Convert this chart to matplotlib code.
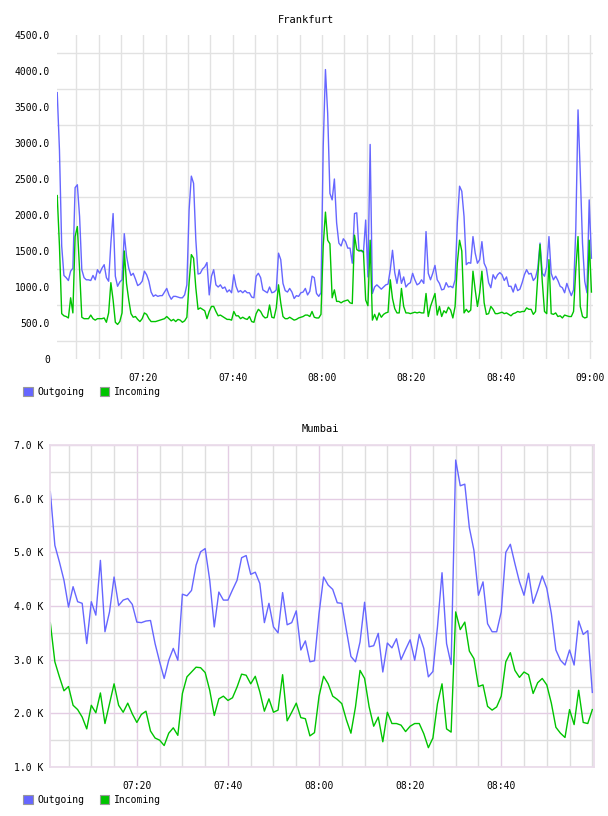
import matplotlib
matplotlib.use('Agg')
import matplotlib.pyplot as plt
import matplotlib.dates as mdates
from matplotlib.patches import Patch
from matplotlib.ticker import FixedLocator, FuncFormatter, MultipleLocator
import pandas as pd

plt.rcParams['font.family'] = ['DejaVu Sans Mono', 'DejaVu Sans']
plt.rcParams['font.size'] = 7

BLUE = '#6666ff'
GREEN = '#00c400'

# Frankfurt: one sample every 30 s, first one at 07:00:45
fra_out = [3700, 2900, 1570, 1160, 1130, 1090, 1220, 1260, 2380, 2420,
           1980, 1240, 1130, 1100, 1100, 1090, 1160, 1100, 1240, 1190,
           1260, 1310, 1130, 1080, 1610, 2020, 1150, 1010, 1070, 1100,
           1740, 1430, 1260, 1160, 1190, 1110, 1020, 1040, 1080, 1220,
           1170, 1080, 930, 870, 890, 870, 880, 880, 930, 980,
           890, 830, 870, 870, 860, 850, 850, 890, 1030, 2070,
           2540, 2440, 1660, 1180, 1190, 1250, 1280, 1340, 890, 1150,
           1240, 1030, 1000, 1030, 980, 1000, 930, 960, 920, 1170,
           1010, 930, 950, 920, 950, 920, 920, 860, 850, 1150,
           1190, 1130, 960, 940, 920, 1000, 920, 930, 960, 1470,
           1380, 1050, 950, 930, 980, 930, 840, 880, 870, 920,
           930, 980, 890, 940, 1150, 1130, 910, 870, 920, 2950,
           4020, 3410, 2300, 2210, 2500, 1890, 1610, 1570, 1670, 1630,
           1540, 1540, 1330, 2020, 2030, 1510, 1500, 1480, 1930, 1140,
           2980, 910, 1000, 1030, 1000, 970, 1000, 1030, 1040, 1240,
           1510, 1200, 1050, 1240, 1050, 1140, 1000, 1040, 1060, 1190,
           1100, 1030, 1050, 1100, 1050, 1770, 1190, 1100, 1190, 1300,
           1100, 1050, 960, 970, 1060, 1000, 1010, 990, 1100, 1890,
           2400, 2330, 1980, 1310, 1340, 1330, 1700, 1470, 1330, 1380,
           1630, 1330, 1260, 1060, 990, 1170, 1110, 1170, 1200, 1170,
           1090, 1140, 1010, 1010, 930, 1040, 950, 970, 1060, 1170,
           1240, 1180, 1190, 1090, 1130, 1260, 1610, 1190, 1150, 1280,
           1700, 1190, 1100, 1150, 1090, 1010, 990, 920, 1050, 960,
           880, 960, 1800, 3460, 2580, 1610, 1080, 920, 2210, 1400]
fra_in = [2270, 1570, 630, 600, 590, 570, 850, 640, 1700, 1840,
          1240, 580, 560, 560, 560, 610, 560, 540, 560, 560,
          560, 570, 510, 640, 1060, 820, 510, 480, 520, 640,
          1500, 1050, 820, 630, 580, 590, 550, 520, 560, 640,
          620, 560, 520, 520, 520, 530, 540, 550, 560, 590,
          560, 530, 550, 520, 550, 540, 510, 530, 580, 1060,
          1450, 1400, 990, 690, 710, 690, 670, 560, 660, 730,
          730, 660, 600, 610, 590, 570, 550, 550, 540, 660,
          600, 600, 560, 580, 560, 550, 590, 520, 510, 630,
          690, 660, 600, 570, 580, 750, 580, 570, 710, 1030,
          780, 590, 560, 560, 580, 560, 540, 550, 570, 580,
          590, 610, 610, 590, 660, 580, 570, 570, 620, 1570,
          2040, 1650, 1600, 850, 960, 800, 800, 780, 800, 810,
          820, 780, 770, 1720, 1520, 1500, 1510, 1490, 820, 740,
          1650, 540, 620, 540, 640, 580, 620, 640, 650, 1100,
          840, 700, 640, 640, 980, 730, 640, 640, 630, 640,
          650, 640, 650, 640, 640, 910, 590, 730, 820, 910,
          610, 730, 590, 670, 640, 720, 680, 570, 730, 1330,
          1650, 1500, 640, 690, 650, 680, 1220, 960, 730, 920,
          1220, 780, 620, 630, 730, 690, 630, 630, 640, 650,
          630, 640, 620, 600, 630, 640, 660, 650, 660, 660,
          710, 690, 690, 620, 660, 1150, 1590, 1080, 660, 630,
          1380, 630, 620, 640, 590, 600, 570, 610, 600, 590,
          590, 660, 1240, 1700, 730, 590, 570, 580, 1650, 930]

# Mumbai: one sample per minute, first one at 07:01
mum_out = [6130, 5130, 4820, 4480, 3980, 4360, 4080, 4050, 3300, 4080,
           3830, 4850, 3520, 3890, 4540, 4010, 4110, 4140, 4030, 3700,
           3690, 3720, 3730, 3300, 2960, 2650, 2990, 3210, 2990, 4220,
           4190, 4290, 4760, 5010, 5070, 4480, 3610, 4260, 4110, 4110,
           4300, 4480, 4900, 4940, 4590, 4630, 4420, 3690, 4050, 3610,
           3500, 4250, 3650, 3690, 3910, 3180, 3350, 2960, 2980, 3860,
           4540, 4390, 4310, 4060, 4050, 3550, 3060, 2960, 3330, 4070,
           3240, 3260, 3490, 2770, 3310, 3220, 3390, 3000, 3190, 3370,
           2990, 3470, 3210, 2680, 2780, 3610, 4620, 3300, 2910, 6720,
           6240, 6270, 5460, 5040, 4200, 4450, 3670, 3520, 3520, 3890,
           5000, 5150, 4790, 4450, 4200, 4610, 4050, 4290, 4560, 4330,
           3860, 3180, 2990, 2900, 3180, 2900, 3720, 3470, 3540, 2390]
mum_in = [3690, 2960, 2680, 2420, 2500, 2150, 2070, 1930, 1710, 2150,
          2010, 2380, 1810, 2180, 2550, 2150, 2020, 2190, 1990, 1830,
          1980, 2040, 1670, 1540, 1500, 1400, 1630, 1730, 1590, 2370,
          2680, 2770, 2860, 2850, 2760, 2430, 1960, 2270, 2320, 2240,
          2290, 2490, 2730, 2710, 2550, 2690, 2400, 2040, 2270, 2020,
          2060, 2720, 1860, 2020, 2190, 1920, 1900, 1580, 1640, 2320,
          2690, 2550, 2320, 2260, 2180, 1880, 1630, 2120, 2800, 2650,
          2120, 1760, 1930, 1470, 2020, 1810, 1810, 1780, 1660, 1760,
          1810, 1810, 1620, 1360, 1540, 2180, 2550, 1710, 1650, 3890,
          3560, 3700, 3160, 3020, 2500, 2530, 2130, 2060, 2120, 2320,
          2960, 3130, 2800, 2670, 2770, 2720, 2370, 2570, 2650, 2530,
          2190, 1740, 1630, 1550, 2070, 1790, 2430, 1830, 1810, 2070]

day = '2015-01-01 '
fra_t = pd.date_range(day + '07:00:45', periods=len(fra_out), freq='30s')
mum_t = pd.date_range(day + '07:01:00', periods=len(mum_out), freq='1min')
mum_labels = ['07:20', '07:40', '08:00', '08:20', '08:40']

W, H = 608, 816
fig = plt.figure(figsize=(W / 100, H / 100), dpi=100)


def box(l, t, r, b):
    return [l / W, 1 - b / H, (r - l) / W, (b - t) / H]


def add_legend(y):
    handles = [Patch(facecolor=BLUE, edgecolor='#999999', lw=0.8),
               Patch(facecolor=GREEN, edgecolor='#999999', lw=0.8)]
    fig.legend(handles, ['Outgoing', 'Incoming'], ncol=2, loc='center left',
               bbox_to_anchor=(23 / W, 1 - y / H), frameon=False,
               handlelength=1.0, handleheight=1.0, handletextpad=0.45,
               columnspacing=1.6, borderpad=0, borderaxespad=0, fontsize=7)


# ---- Frankfurt
ax1 = fig.add_axes(box(57, 35, 593, 359))
ax1.plot(fra_t, fra_out, color=BLUE, lw=1.0)
ax1.plot(fra_t, fra_in, color=GREEN, lw=1.0)
ax1.set_ylim(0, 4500)
ax1.set_xlim(pd.Timestamp(day + '07:00:42'), pd.Timestamp(day + '09:00:36'))
ax1.yaxis.set_major_locator(MultipleLocator(500))
ax1.yaxis.set_minor_locator(FixedLocator(range(250, 4500, 500)))
ax1.yaxis.set_major_formatter(FuncFormatter(lambda v, p: '0' if v == 0 else f'{v:.1f}'))
ax1.xaxis.set_major_locator(mdates.MinuteLocator(byminute=[0, 20, 40]))
ax1.xaxis.set_minor_locator(mdates.MinuteLocator(byminute=range(0, 60, 5)))
ax1.xaxis.set_major_formatter(mdates.DateFormatter('%H:%M'))
ax1.grid(True, which='minor', axis='y', color='#e2e2e2', lw=1)
ax1.grid(True, which='both', axis='x', color='#e2e2e2', lw=1)
ax1.set_axisbelow(True)
for s in ax1.spines.values():
    s.set_visible(False)
ax1.tick_params(which='both', length=0)
ax1.tick_params(axis='y', pad=5)
ax1.tick_params(axis='x', pad=10)
fig.text(306 / W, 1 - 20 / H, 'Frankfurt', ha='center', va='center', fontsize=7.5)
add_legend(392)

# ---- Mumbai
ax2 = fig.add_axes(box(50, 445, 594, 767))
ax2.plot(mum_t, mum_out, color=BLUE, lw=1.0)
ax2.plot(mum_t, mum_in, color=GREEN, lw=1.0)
ax2.set_ylim(1000, 7000)
ax2.set_xlim(pd.Timestamp(day + '07:00:56'), pd.Timestamp(day + '09:00:22'))
ax2.yaxis.set_major_locator(MultipleLocator(1000))
ax2.yaxis.set_minor_locator(MultipleLocator(500))
ax2.yaxis.set_major_formatter(FuncFormatter(lambda v, p: f'{v / 1000:.1f} K'))
ax2.xaxis.set_major_locator(FixedLocator(mdates.date2num(pd.to_datetime([day + s for s in mum_labels]))))
ax2.xaxis.set_minor_locator(mdates.MinuteLocator(byminute=range(0, 60, 5)))
ax2.xaxis.set_major_formatter(mdates.DateFormatter('%H:%M'))
ax2.grid(True, which='major', color='#e4cde4', lw=1)
ax2.grid(True, which='minor', color='#dedede', lw=1)
ax2.set_axisbelow(True)
for s in ax2.spines.values():
    s.set_color('#eadcea')
    s.set_linewidth(1.3)
ax2.tick_params(which='both', length=0)
ax2.tick_params(axis='y', pad=5)
ax2.tick_params(axis='x', pad=10)
fig.text(320 / W, 1 - 429 / H, 'Mumbai', ha='center', va='center', fontsize=7.5)
add_legend(800)

fig.savefig('out.png', dpi=100)
